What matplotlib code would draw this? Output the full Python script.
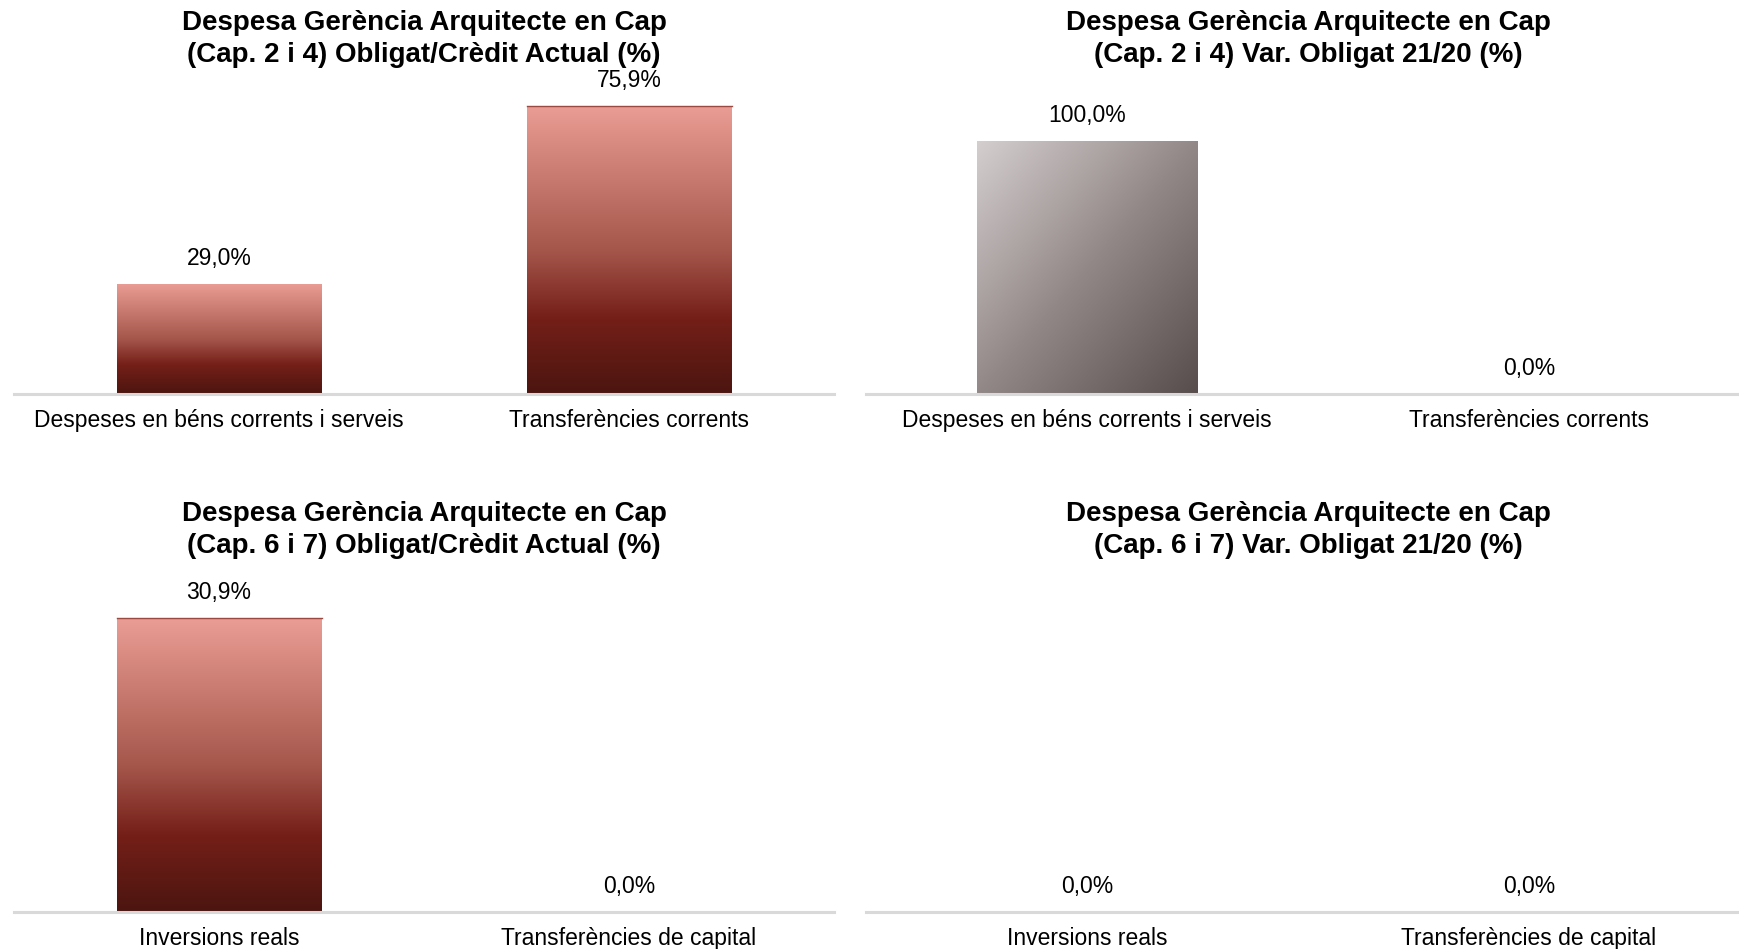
import numpy as np
import matplotlib as mpl
mpl.use('Agg')
import matplotlib.pyplot as plt
from matplotlib.colors import LinearSegmentedColormap

plt.rcParams['font.family'] = ['Liberation Sans', 'DejaVu Sans']

# data
cats_24 = ['Despeses en béns corrents i serveis', 'Transferències corrents']
cats_67 = ['Inversions reals', 'Transferències de capital']
oblig_credit_24 = [29.0, 75.9]
var_oblig_24 = [100.0, 0.0]
oblig_credit_67 = [30.9, 0.0]
var_oblig_67 = [0.0, 0.0]

titles = [
    'Despesa Gerència Arquitecte en Cap\n(Cap. 2 i 4) Obligat/Crèdit Actual (%)',
    'Despesa Gerència Arquitecte en Cap\n(Cap. 2 i 4) Var. Obligat 21/20 (%)',
    'Despesa Gerència Arquitecte en Cap\n(Cap. 6 i 7) Obligat/Crèdit Actual (%)',
    'Despesa Gerència Arquitecte en Cap\n(Cap. 6 i 7) Var. Obligat 21/20 (%)',
]

red_cmap = LinearSegmentedColormap.from_list(
    'red', [(0, '#EA9D94'), (0.5, '#A6574C'), (0.74, '#741F18'), (1.0, '#4C1510')])
grey_cmap = LinearSegmentedColormap.from_list(
    'grey', [(0, '#D4CECE'), (0.5, '#938888'), (1.0, '#574D4D')])

W, H = 1739, 949
fig = plt.figure(figsize=(W / 100, H / 100), dpi=100)


def px_axes(left, right, bottom, top):
    return fig.add_axes([left / W, 1 - bottom / H, (right - left) / W, (bottom - top) / H])


def gradient_bar(ax, x, h, width, cmap, diagonal=False, top_line=False):
    if h <= 0:
        return
    rect = ax.bar(x, h, width=width, color='none', edgecolor='none')[0]
    n = 256
    if diagonal:
        u = np.linspace(0, 1, n)
        v = np.linspace(0, 1, n)
        grid = (u[None, :] + v[:, None]) / 2
    else:
        grid = np.linspace(0, 1, n)[:, None] * np.ones((1, 2))
    im = ax.imshow(grid, cmap=cmap, vmin=0, vmax=1, aspect='auto',
                   extent=[x - width / 2, x + width / 2, 0, h], origin='upper',
                   interpolation='bilinear', zorder=2)
    im.set_clip_path(rect)
    if top_line:
        ax.plot([x - width / 2, x + width / 2], [h, h], color='#9A4A40', lw=1, zorder=3)


def panel(ax, cats, vals, ymax, cmap, diagonal, width, title, title_y):
    x = np.arange(len(cats))
    for xi, v in zip(x, vals):
        gradient_bar(ax, xi, v, width, cmap, diagonal, top_line=(not diagonal and v > 30))
        ax.annotate(f'{v:.1f}%'.replace('.', ','), (xi, v), xytext=(0, 19),
                    textcoords='offset pixels', ha='center', va='baseline',
                    fontsize=16.5, color='#000000', annotation_clip=False)
    ax.set_xlim(-0.5, len(cats) - 0.5)
    ax.set_ylim(0, ymax)
    ax.set_xticks(x)
    ax.set_xticklabels(cats, fontsize=16.5)
    ax.tick_params(axis='x', length=0, pad=11)
    ax.set_yticks([])
    for s in ['top', 'right', 'left']:
        ax.spines[s].set_visible(False)
    ax.spines['bottom'].set_color('#D9D9D9')
    ax.spines['bottom'].set_linewidth(2.2)
    ax.set_facecolor('none')
    bb = ax.get_position()
    fig.text(bb.x0 + bb.width / 2, 1 - title_y / H, title, ha='center', va='top',
             fontsize=20, fontweight='bold', linespacing=1.32)


ax1 = px_axes(14, 834, 394, 70)
panel(ax1, cats_24, oblig_credit_24, 324 / 3.8, red_cmap, False, 0.5, titles[0], 10)

ax2 = px_axes(866, 1750, 394, 70)
panel(ax2, cats_24, var_oblig_24, 324 / 2.53, grey_cmap, True, 0.5, titles[1], 10)

ax3 = px_axes(14, 834, 912, 590)
panel(ax3, cats_67, oblig_credit_67, 322 / 9.5, red_cmap, False, 0.5, titles[2], 501)

ax4 = px_axes(866, 1750, 912, 590)
panel(ax4, cats_67, var_oblig_67, 1.0, red_cmap, False, 0.5, titles[3], 501)

plt.savefig('out.png', dpi=100)
